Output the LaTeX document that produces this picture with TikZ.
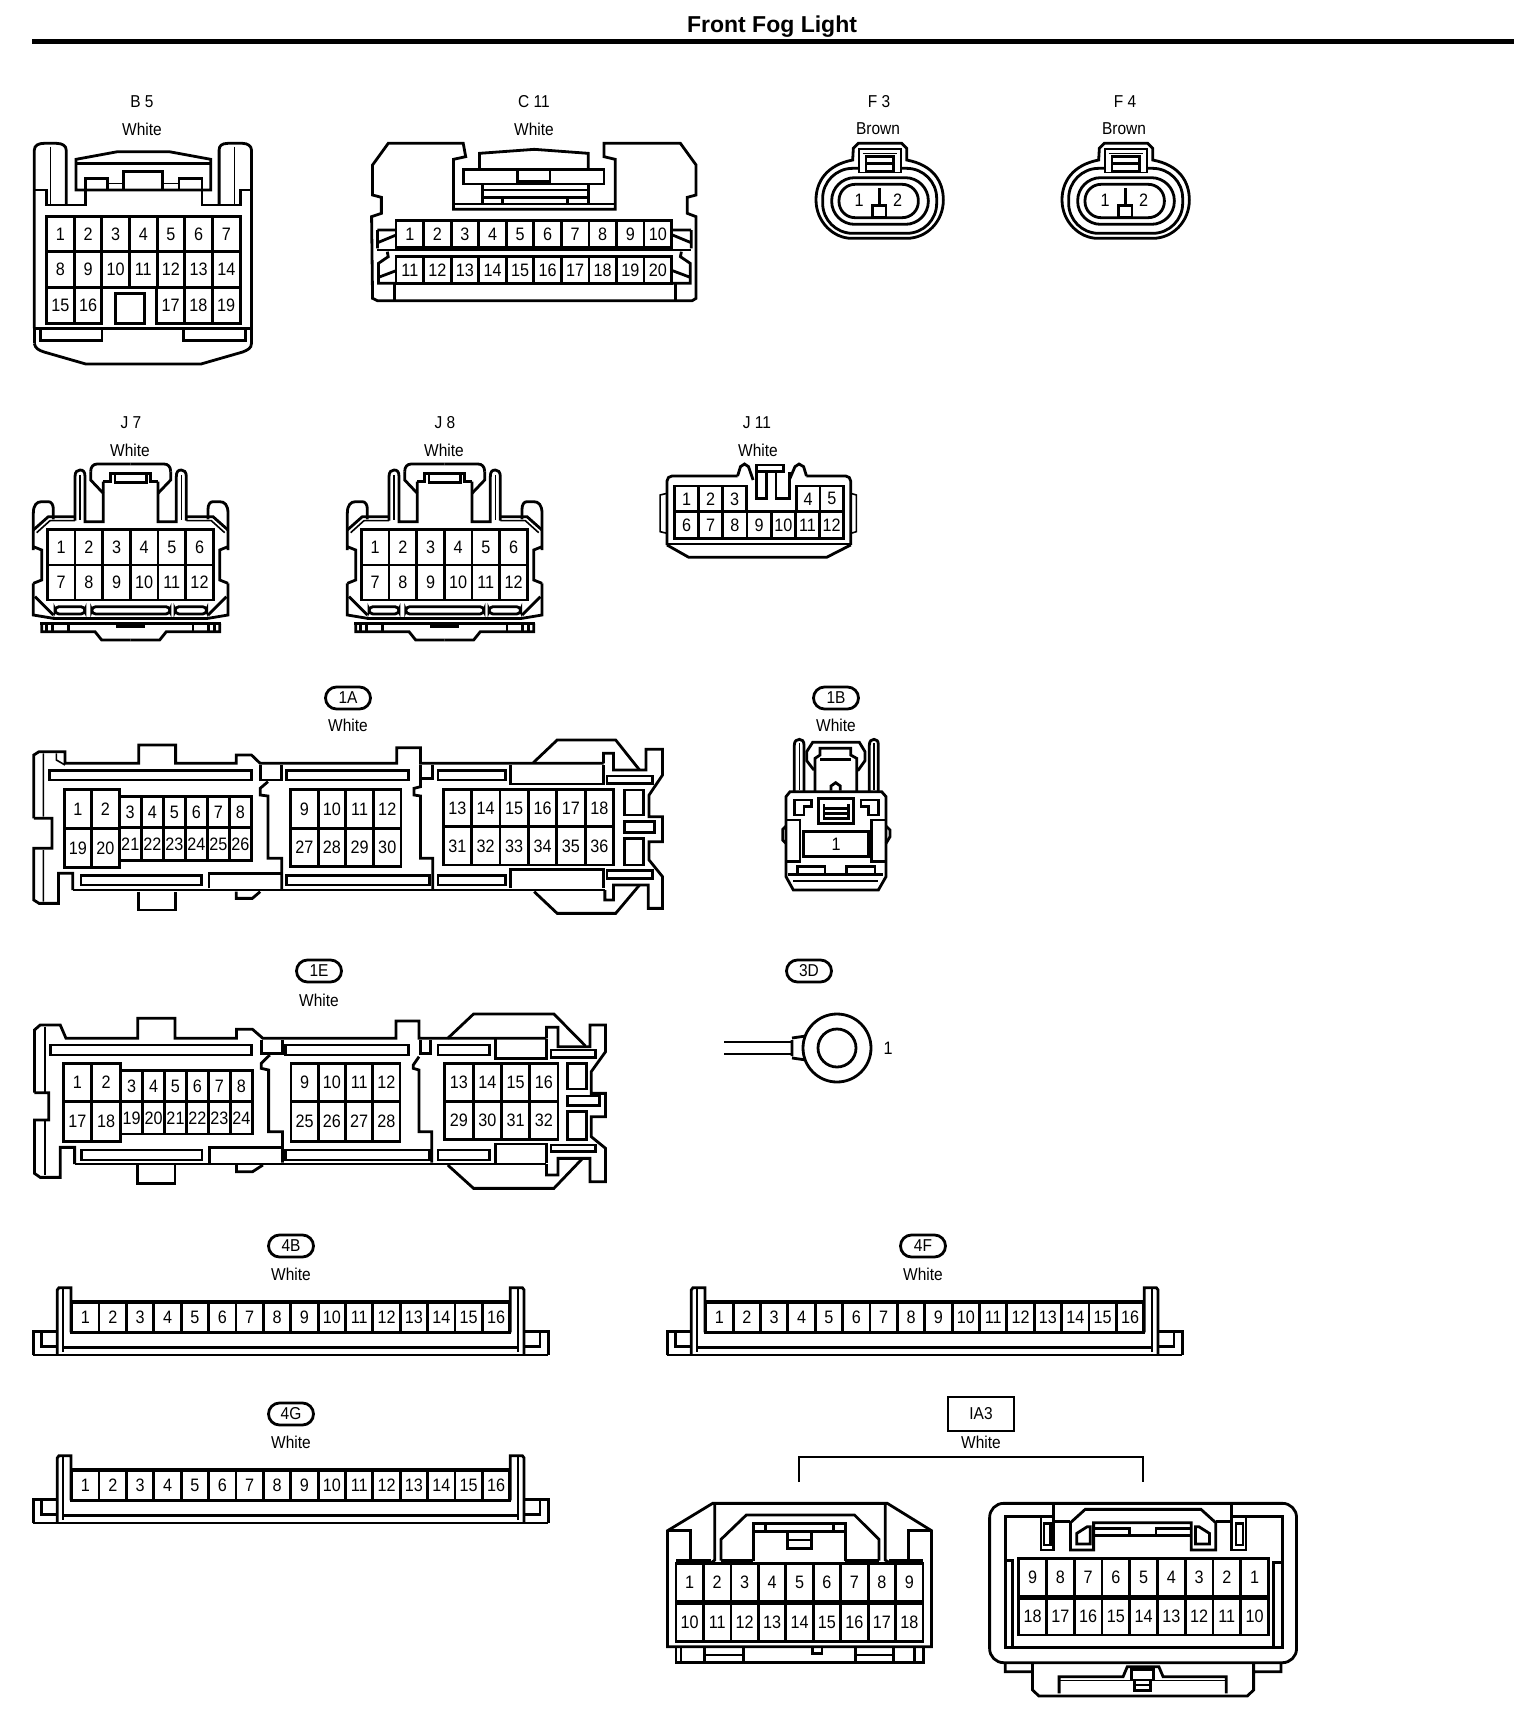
\documentclass[tikz,border=0pt]{standalone}
\usepackage{fontspec}
\setmainfont{Liberation Sans}
\newfontfamily\pf[FakeStretch=0.9]{Liberation Sans}
\newcounter{pc}
\tikzset{
  zm/.style n args={3}{shift={({#1*0.5pt},{#2*-0.5pt})},x=#3pt,y=-0.16667pt},
  pin/.style={font=\pf\fontsize{9}{9}\selectfont,inner sep=0pt},
  captxt/.style={font=\pf\fontsize{8.6}{9}\selectfont,inner sep=0pt},
  bub/.style={draw,line width=1.4pt,rounded corners=5.5pt,minimum width=22.5pt,minimum height=11pt,inner sep=0pt,font=\pf\fontsize{8.6}{9}\selectfont},
  thin line/.style={line width=0.8pt},
}
\newcommand\plab[3]{\stepcounter{pc}\node[pin,name=p\arabic{pc}] at (#1,#2) {#3};}
% x0 dx ytop ybot first step count
\newcommand\ucells[7]{\foreach \ii in {1,...,#7}{%
  \pgfmathsetmacro\xa{#1+(\ii-1)*#2}%
  \pgfmathsetmacro\xb{\xa+#2}%
  \pgfmathsetmacro\xc{\xa+#2/2}%
  \pgfmathsetmacro\yc{(#3+#4)/2}%
  \pgfmathtruncatemacro\lab{#5+(\ii-1)*#6}%
  \draw (\xa,#3) rectangle (\xb,#4);
  \plab{\xc}{\yc}{\lab}
}}
\newcommand\capt[4]{\node[captxt,name=#1] at ({#2*0.5pt},{#3*-0.5pt}) {#4};}
% half of J7 / J8
\newcommand\jhalf{%
  \draw (40,300)--(40,190) .. controls (40,165) and (50,155) .. (65,155) -- (85,155) .. controls (95,155) and (100,165) .. (100,178) -- (100,208);
  \draw (40,240)--(85,200)--(165,200);
  \draw[thin line] (50,248)--(90,212)--(165,212);
  \draw (165,212)--(165,80) .. controls (165,65) and (172,60) .. (180,60) .. controls (190,60) and (195,65) .. (195,80) -- (195,215) -- (250,215) -- (250,95);
  \draw[thin line] (180,75)--(180,210);
  \draw (40,290)--(65,300)--(65,390)--(40,400);
  \draw (40,400)--(40,495)--(100,505);
  \draw (45,440)--(100,495);
  \draw (65,520)--(65,545)--(225,545)--(245,570)--(332,570);
  \draw (80,520)--(80,545) (98,520)--(98,545) (145,520)--(145,545);
  \draw (100,505)--(332,505) (60,520)--(332,520);
  \draw (212,65) .. controls (212,50) and (220,42) .. (232,42) -- (332,42);
  \draw (212,65)--(212,90)--(250,130);
  \draw (250,95)--(272,95)--(272,70)--(332,70);
  \draw (285,70)--(285,97)--(332,97);
}
\newcommand\jconn[1]{%
 \begin{scope}[zm={#1}{450}{0.16667}]
  \jhalf
  \begin{scope}[shift={(664,0)},xscale=-1] \jhalf \end{scope}
  \draw[rounded corners=2pt] (105,470) rectangle (195,492) (215,470) rectangle (450,492) (465,470) rectangle (560,492);
  \fill (288,520)--(288,535)--(375,535)--(375,520)--cycle;
  \ucells{82}{83}{238}{345}{1}{1}{6}
  \ucells{82}{83}{345}{450}{7}{1}{6}
 \end{scope}
}
% 4B type
\newcommand\fourb[2]{%
 \begin{scope}[zm={#1}{#2}{0.1724}]
  \draw (38,390)--(38,320)--(108,320) (62,320)--(62,365)--(108,365);
  \draw (1532,390)--(1532,320)--(1462,320) (1508,320)--(1508,365)--(1462,365);
  \draw (38,390)--(1532,390);
  \draw (125,368)--(1445,368);
  \draw (108,388)--(108,195)--(113,188)--(148,188)--(148,322);
  \draw[thin line] (125,190)--(125,380);
  \draw (1462,388)--(1462,195)--(1457,188)--(1422,188)--(1422,322);
  \draw[thin line] (1445,190)--(1445,380);
  \draw (148,228)--(1422,228);
  \ucells{150}{79.4}{232}{322}{1}{1}{16}
 \end{scope}
}
\begin{document}
\begin{tikzpicture}[line width=1.4pt,line join=miter,x=0.5pt,y=-0.5pt]
\useasboundingbox (0,0) rectangle (1536,1718);
\fill[white] (0,0) rectangle (1536,1718);
% title
\node[inner sep=0pt,font=\bfseries\fontsize{11.5}{12}\selectfont] (title) at (772,26.5) {Front Fog Light};
\draw[line width=2.5pt] (32,41.5)--(1514,41.5);
% captions
\capt{b5}{142}{101.5}{B 5} \capt{b5w}{142}{129}{White}
\capt{c11}{534}{101.5}{C 11} \capt{c11w}{534}{129}{White}
\capt{f3}{879}{102}{F 3} \capt{f3w}{878}{129}{Brown}
\capt{f4}{1125}{102}{F 4} \capt{f4w}{1124}{129}{Brown}
\capt{j7}{131}{423}{J 7} \capt{j7w}{130}{450}{White}
\capt{j8}{445}{423}{J 8} \capt{j8w}{444}{450}{White}
\capt{j11}{757}{423}{J 11} \capt{j11w}{758}{450}{White}
\node[bub] (b1a) at (348,698) {1A}; \capt{w1a}{348}{725}{White}
\node[bub] (b1b) at (836,698) {1B}; \capt{w1b}{836}{725}{White}
\node[bub] (b1e) at (319,971) {1E}; \capt{w1e}{319}{1000}{White}
\node[bub] (b3d) at (809,971) {3D};
\node[bub] (b4b) at (291,1246) {4B}; \capt{w4b}{291}{1274}{White}
\node[bub] (b4f) at (923,1246) {4F}; \capt{w4f}{923}{1274}{White}
\node[bub] (b4g) at (291,1414) {4G}; \capt{w4g}{291}{1442}{White}
\node[draw,minimum width=33pt,minimum height=17pt,inner sep=0pt,font=\pf\fontsize{8.6}{9}\selectfont] (ia3) at (981,1414) {IA3};
\capt{wia}{981}{1442}{White}
\coordinate (brl) at (799,1482); \coordinate (brr) at (1143,1482);
\draw (brl)|-(971,1457)-|(brr);

% B5
\begin{scope}[zm={0}{0}{0.2451}]
 \draw (70,985)--(70,450) .. controls (70,435) and (80,430) .. (90,430) -- (115,430) .. controls (128,430) and (135,438) .. (135,450) -- (135,612);
 \draw (70,1030)--(70,985);
 \draw (70,1030)..controls (72,1045) and (78,1050) .. (90,1056)--(175,1092)--(410,1092)--(495,1056) .. controls (505,1050) and (513,1045) .. (513,1030)--(513,450) .. controls (513,438) and (505,430) .. (495,430) -- (465,430) .. controls (452,430) and (447,438) .. (447,450)--(447,612);
 \draw[thin line] (103,440)--(103,612) (478,440)--(478,612);
 \draw (70,570)--(95,570)--(95,615)--(175,615)--(175,570);
 \draw (513,570)--(490,570)--(490,615)--(412,615)--(412,570);
 \draw (155,570)--(155,478)--(240,455)--(345,455)--(430,478)--(430,570)--cycle;
 \draw (155,490)--(430,490);
 \draw (175,568)--(175,535)--(220,535)--(220,568) (252,568)--(252,515)--(332,515)--(332,568) (365,568)--(365,535)--(412,535)--(412,568);
 \draw[thin line] (220,550)--(252,550) (332,550)--(365,550);
 \ucells{95}{56.4}{650}{755}{1}{1}{7}
 \ucells{95}{56.4}{755}{862}{8}{1}{7}
 \ucells{95}{56.4}{862}{970}{15}{1}{2}
 \ucells{320}{56.6}{862}{970}{17}{1}{3}
 \draw (235,970) rectangle (295,880);
 \draw (70,985)--(513,985);
 \draw (82,990)--(82,1022)--(208,1022)--(208,990) (375,990)--(375,1022)--(500,1022)--(500,990);
\end{scope}

% C11
\begin{scope}[zm={0}{0}{0.2451}]
 \draw (770,902)--(760,895)--(758,650)--(778,640)--(778,592)--(760,585)--(760,495)--(792,430)--(945,430)--(950,470)--(925,478)--(925,628)--(1255,628)--(1255,478)--(1232,470)--(1232,430)--(1388,430)--(1420,495)--(1420,585)--(1402,592)--(1402,640)--(1420,650)--(1420,895)--(1412,902)--cycle;
 \draw (805,850)--(805,900) (1378,850)--(1378,900);
 \draw (978,508)--(978,460)--(1090,448)--(1200,460)--(1200,508);
 \draw (945,508) rectangle (1232,552);
 \draw[fill=white] (1055,510) rectangle (1122,545);
 \draw (985,552)--(985,610) (1200,552)--(1200,610);
 \draw (985,570)--(1200,570) (985,592)--(1200,592) (925,612)--(1255,612);
 \draw (1025,592)--(1025,612) (1157,592)--(1157,612);
 \draw (770,750)--(1410,750);
 \draw (770,690)--(808,690) (770,690)--(770,745) (772,727)--(808,705);
 \draw (790,755)--(792,770)--(772,790)--(772,850)--(808,850) (772,832)--(808,812);
 \draw (1410,690)--(1370,690) (1410,690)--(1410,745) (1408,727)--(1372,705);
 \draw (1390,755)--(1388,770)--(1408,790)--(1408,850)--(1370,850) (1408,832)--(1372,812);
 \ucells{808}{56.2}{662}{742}{1}{1}{10}
 \ucells{808}{56.2}{770}{850}{11}{1}{10}
\end{scope}

% F3 F4
\foreach \ox/\nm in {790/a,1036/b}{
\begin{scope}[zm={\ox}{85}{0.16667}]
 \draw (188,225) .. controls (110,240) and (78,290) .. (78,345) .. controls (78,410) and (130,460) .. (185,460) -- (350,460) .. controls (410,460) and (460,410) .. (460,345) .. controls (460,290) and (430,240) .. (350,225) -- (350,190) -- (335,175) -- (205,175) -- (190,190) -- cycle;
 \draw[rounded corners=15pt] (98,250) rectangle (440,445);
 \draw[rounded corners=11.5pt] (125,278) rectangle (415,418);
 \draw[rounded corners=8pt] (147,298) rectangle (385,398);
 \draw[fill=white,thin line] (207,192) rectangle (333,262);
 \draw[thin line] (218,205)--(320,205);
 \draw (228,215) rectangle (310,258) (228,236)--(310,236);
 \draw (268,310)--(268,362);
 \draw[fill=white] (248,362) rectangle (288,398);
 \plab{207}{347}{1}
 \plab{323}{347}{2}
\end{scope}
}

\jconn{20}
\jconn{334}

% J11
\begin{scope}[zm={0}{400}{0.2870}]
 \draw[rounded corners=2.5pt] (1162,435)--(1162,228)--(1285,228);
 \draw (1285,228)--(1290,200)--(1297,192)--(1304,200)--(1312,240);
 \draw (1318,215)--(1318,195)--(1365,195)--(1365,215)--cycle;
 \draw (1318,215)--(1318,295)--(1335,295)--(1335,215) (1352,215)--(1352,295)--(1375,295)--(1375,215);
 \draw (1375,240)--(1385,200)--(1392,192)--(1400,200)--(1405,228);
 \draw[rounded corners=2.5pt] (1405,228)--(1482,228)--(1482,435);
 \draw (1162,435)--(1200,472)--(1440,472)--(1482,435);
 \draw (1162,432)--(1482,432);
 \draw[thin line] (1162,280)--(1150,285)--(1150,395)--(1162,400) (1482,280)--(1492,285)--(1492,395)--(1482,400);
 \ucells{1175}{42}{258}{335}{1}{1}{3}
 \ucells{1387}{41.5}{258}{335}{4}{1}{2}
 \ucells{1175}{42.14}{335}{415}{6}{1}{7}
\end{scope}

% 1A
\begin{scope}[zm={0}{670}{0.2168}]
 \draw (78,445)--(78,255)--(90,245)--(150,245)--(150,280)--(320,280)--(320,225)--(405,225)--(405,280)--(545,280)--(545,255)--(580,255)--(600,280)--(915,280)--(915,233)--(970,233)--(970,280)--(1392,280);
 \draw (1230,278)--(1285,210)--(1420,210)--(1475,300);
 \draw (1392,280)--(1392,250)--(1415,250)--(1415,300)--(1490,300)--(1490,238)--(1528,238)--(1528,315)--(1497,375)--(1497,440)--(1528,440)--(1528,515)--(1497,515)--(1497,570)--(1528,620)--(1528,715)--(1495,715)--(1495,645)--(1415,645)--(1415,690)--(1395,690)--(1395,660);
 \draw (1232,665)--(1285,730)--(1420,730)--(1475,645);
 \draw (168,660)--(1395,660);
 \draw (168,660)--(168,610)--(135,610)--(135,700)--(90,700)--(78,690)--(78,535)--(120,535)--(120,445)--(78,445);
 \draw[thin line] (100,250)--(100,440) (100,540)--(100,695) (130,250)--(130,270)--(150,285);
 \draw (320,665)--(320,720)--(405,720)--(405,665);
 \draw (545,665)--(545,685)--(582,685)--(600,665);
 \draw (115,302) rectangle (580,330) (660,302) rectangle (942,330) (1010,302) rectangle (1165,330);
 \draw (187,617) rectangle (465,645) (660,617) rectangle (990,645) (1010,617) rectangle (1165,645);
 \draw (1177,285)--(1177,342)--(1392,342)--(1392,285);
 \draw (1177,655)--(1177,598)--(1392,598)--(1392,655);
 \draw (600,285)--(600,330)--(650,330)--(650,285);
 \draw (618,335)--(600,355)--(600,375)--(618,378)--(618,565)--(650,565)--(650,660);
 \draw (970,285)--(970,350)--(955,355)--(955,375)--(970,378)--(970,565)--(998,565)--(998,660);
 \draw (970,325)--(998,325)--(998,285);
 \draw (482,655)--(482,610)--(650,610);
 \ucells{148}{63.5}{358}{475}{1}{1}{2}
 \ucells{148}{63.5}{475}{592}{19}{1}{2}
 \ucells{275}{50.8}{380}{472}{3}{1}{6}
 \ucells{275}{50.8}{472}{572}{21}{1}{6}
 \ucells{670}{63.75}{358}{475}{9}{1}{4}
 \ucells{670}{63.75}{475}{590}{27}{1}{4}
 \ucells{1022}{65.5}{358}{470}{13}{1}{6}
 \ucells{1022}{65.5}{470}{585}{31}{1}{6}
 \draw (1440,360) rectangle (1485,435) (1440,455) rectangle (1510,488) (1440,505) rectangle (1485,585);
 \draw (1400,318) rectangle (1505,340) (1400,602) rectangle (1505,625);
\end{scope}

% 1B
\begin{scope}[zm={760}{680}{0.16667}]
 \draw (103,335)--(103,195)..controls (103,183) and (110,178) .. (118,178) .. controls (126,178) and (132,183) .. (132,195)--(132,335);
 \draw (328,335)--(328,195)..controls (328,183) and (335,178) .. (342,178) .. controls (350,178) and (355,183) .. (355,195)--(355,335);
 \draw[thin line] (118,190)--(118,330) (342,190)--(342,330);
 \draw (165,268)--(160,268)--(140,242)--(140,215)--(158,187)--(298,187)--(315,215)--(315,242)--(295,270)--(290,270);
 \draw (165,335)--(165,235)--(180,225)--(180,205)--(272,205)--(272,225)--(290,235)--(290,335);
 \draw (180,238)--(272,238);
 \draw (213,332)--(213,318)--(227,308)--(241,318)--(241,332);
 \draw (78,590)--(78,350)--(90,335)--(365,335)--(378,350)--(378,590)--(355,630)--(100,630)--cycle;
 \draw (78,438)--(68,448)--(68,480)--(78,490) (378,438)--(390,450)--(390,470)--(378,490);
 \draw (175,355) rectangle (280,430);
 \draw (192,372)--(192,415)--(265,415)--(265,372) (192,385)--(265,385) (192,400)--(265,400);
 \draw (103,360)--(155,360)--(155,380)--(132,380)--(132,405)--(103,405)--cycle;
 \draw (303,360)--(355,360)--(355,405)--(325,405)--(325,380)--(303,380)--cycle;
 \draw (130,455) rectangle (325,530);
 \plab{228}{492}{1}
 \draw (78,420)--(120,420)--(120,545)--(78,545) (378,420)--(335,420)--(335,545)--(378,545);
 \draw (113,583)--(113,560)--(195,560)--(195,583) (260,583)--(260,560)--(345,560)--(345,583);
 \draw (85,583)--(370,583) (100,603)--(355,603);
\end{scope}

% 1E
\begin{scope}[zm={0}{940}{0.2870}]
 \draw (60,458)--(60,270)--(70,255)--(105,255)--(115,295)--(240,295)--(240,235)--(305,235)--(305,295)--(412,295)--(412,268)--(440,268)--(458,295)--(690,295)--(690,243)--(730,243)--(730,295)--(952,295);
 \draw (780,295)--(825,222)--(965,222)--(1020,318);
 \draw (952,295)--(952,262)--(972,262)--(972,320)--(1028,320)--(1028,255)--(1055,255)--(1055,335)--(1030,395)--(1030,460)--(1055,460)--(1055,530)--(1030,530)--(1030,590)--(1055,625)--(1055,725)--(1028,725)--(1028,655)--(972,655)--(972,705)--(952,705)--(952,672);
 \draw (130,672)--(952,672);
 \draw (130,672)--(130,622)--(105,622)--(105,712)--(70,712)--(60,700)--(60,540)--(85,540)--(85,458)--(60,458);
 \draw[thin line] (78,262)--(78,455) (78,540)--(78,705);
 \draw (240,675)--(240,730)--(305,730)--(305,675);
 \draw (412,675)--(412,695)--(440,695)--(458,675);
 \draw (780,675)--(825,745)--(965,745)--(1015,655);
 \draw (88,315) rectangle (438,345) (498,315) rectangle (712,345) (763,315) rectangle (853,345);
 \draw (142,630) rectangle (352,660) (498,630) rectangle (748,660) (763,630) rectangle (853,660);
 \draw (863,298)--(863,355)--(952,355)--(952,298);
 \draw (863,668)--(863,612)--(952,612)--(952,668);
 \draw (455,300)--(455,340)--(492,340)--(492,300);
 \draw (470,345)--(455,370)--(455,385)--(468,390)--(468,575)--(492,575)--(492,668);
 \draw (733,300)--(733,340)--(750,340)--(750,300);
 \draw (730,350)--(720,375)--(720,385)--(730,390)--(730,575)--(752,575)--(752,668);
 \draw (365,668)--(365,622)--(492,622);
 \ucells{110}{50}{370}{485}{1}{1}{2}
 \ucells{110}{50}{485}{605}{17}{1}{2}
 \ucells{210}{38.3}{392}{485}{3}{1}{6}
 \ucells{210}{38.3}{485}{582}{19}{1}{6}
 \ucells{507}{47.5}{370}{485}{9}{1}{4}
 \ucells{507}{47.5}{485}{605}{25}{1}{4}
 \ucells{775}{49.25}{370}{485}{13}{1}{4}
 \ucells{775}{49.25}{485}{598}{29}{1}{4}
 \draw (988,370) rectangle (1022,447) (988,468) rectangle (1045,497) (988,515) rectangle (1022,598);
 \draw (960,330) rectangle (1038,352) (960,615) rectangle (1038,635);
\end{scope}

% 3D lug
\coordinate (wa) at (724,1042); \coordinate (wb) at (724,1054);
\coordinate (wc) at (792,1042); \coordinate (wd) at (792,1054);
\draw (wa)--(wc) (wb)--(wd);
\draw (792,1040)--(792,1056) (792,1038)--(806,1036) (792,1058)--(806,1060);
\draw[fill=white] (837,1048) circle[radius=34];
\draw (837,1048) circle[radius=19];
\plab{888}{1048}{1}

% 4B 4F 4G
\fourb{20}{1225}
\fourb{654}{1225}
\fourb{20}{1393}

% IA3 left
\begin{scope}[zm={660}{1470}{0.2105}]
 \draw (18,182)--(125,100)--(540,100)--(645,182)--(645,530)--(18,530)--cycle;
 \draw (18,182)--(72,182)--(72,268) (590,268)--(590,182)--(645,182);
 \draw (130,105)--(130,270)--(122,278) (535,105)--(535,270)--(545,278);
 \draw (38,272)--(122,272) (545,272)--(625,272) (145,272)--(222,272) (440,272)--(520,272);
 \draw (145,272)--(145,208)--(205,135)--(462,135)--(520,208)--(520,272);
 \draw (222,272)--(222,160)--(440,160)--(440,272);
 \draw (222,185)--(440,185) (250,165)--(250,185) (412,165)--(412,185);
 \draw (303,190)--(303,235)--(360,235)--(360,190) (303,210)--(360,210);
 \ucells{38}{65.2}{280}{395}{1}{1}{9}
 \ucells{38}{65.2}{400}{515}{10}{1}{9}
 \draw (38,530)--(38,578)--(625,578)--(625,530);
 \draw (50,535)--(50,578) (105,535)--(105,578) (198,535)--(198,578) (105,555)--(198,555);
 \draw (465,535)--(465,578) (555,535)--(555,578) (605,535)--(605,578) (465,555)--(555,555);
 \draw (362,530)--(362,550)--(385,550)--(385,530);
\end{scope}

% IA3 right
\begin{scope}[zm={660}{1470}{0.2105}]
 \draw[rounded corners=7pt] (783,100) rectangle (1512,578);
 \draw (935,100)--(935,140)--(820,140)--(820,532)--(1478,532)--(1478,140)--(1358,140)--(1358,100);
 \draw (905,140)--(905,240)--(935,240)--(935,140);
 \draw (912,160) rectangle (928,225);
 \draw (1358,140)--(1358,240)--(1392,240)--(1392,140);
 \draw (1368,160) rectangle (1385,225);
 \draw (935,155)--(975,155) (1320,155)--(1358,155);
 \draw (975,158)--(1010,118)--(1285,118)--(1320,158)--(1320,240)--(1262,240)--(1262,158)--(1030,158)--(1030,240)--(975,240)--cycle;
 \draw (1030,175)--(1115,175)--(1115,197) (1030,197)--(1262,197) (1178,197)--(1178,175)--(1262,175);
 \draw (990,222)--(990,190)--(1015,170)--(1022,170)--(1022,222)--cycle;
 \draw (1272,222)--(1272,170)--(1280,170)--(1305,190)--(1305,222)--cycle;
 \draw (820,272)--(838,272)--(838,530) (1478,278)--(1458,278)--(1458,530);
 \ucells{852}{65.9}{265}{380}{9}{-1}{9}
 \ucells{852}{65.9}{385}{495}{18}{-1}{9}
 \draw (820,578)--(820,605)--(885,605) (885,580)--(885,660)--(900,678)--(1395,678)--(1410,660)--(1410,580) (1410,605)--(1475,605)--(1475,578);
 \draw (948,670)--(948,620)--(1100,620)--(1110,590)--(1185,590)--(1195,620)--(1345,620)--(1345,670);
 \draw[thin line] (948,632)--(1345,632);
 \draw (1120,598)--(1172,598)--(1172,630)--(1120,630)--cycle;
 \draw (1128,630)--(1128,662)--(1165,662)--(1165,630) (1128,645)--(1165,645);
\end{scope}
\end{tikzpicture}
\end{document}
